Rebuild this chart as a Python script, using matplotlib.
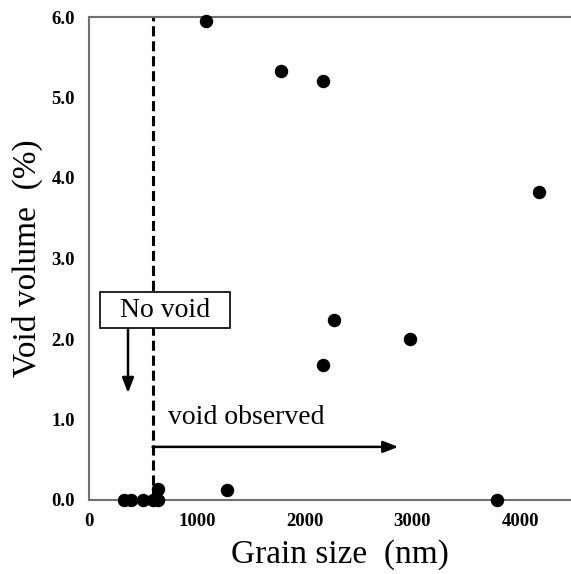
import matplotlib
matplotlib.use("Agg")
import matplotlib.pyplot as plt

grain_size = [1086, 1782, 2172, 4176, 2274, 2979, 2172, 1281, 640,
              325, 390, 500, 590, 640, 3787]
void_volume = [5.95, 5.33, 5.20, 3.83, 2.24, 2.00, 1.68, 0.12, 0.14,
               0.0, 0.0, 0.0, 0.0, 0.0, 0.0]
x_ticks = [0, 1000, 2000, 3000, 4000]
y_ticks = [0.0, 1.0, 2.0, 3.0, 4.0, 5.0, 6.0]
threshold = 590

serif = ["Liberation Serif", "DejaVu Serif"]

fig = plt.figure(figsize=(5.71, 5.74), dpi=100)
ax = fig.add_axes([89/571, 74/574, 1 - 89/571, 483/574])

ax.scatter(grain_size, void_volume, s=75, color="black", zorder=3, clip_on=False)
ax.axvline(threshold, color="black", lw=2.2, dashes=(3.3, 1.6), zorder=2)

ax.set_xlim(0, 4473)
ax.set_ylim(0, 6.0)
ax.set_xticks(x_ticks)
ax.set_yticks(y_ticks)
ax.set_xticklabels([str(t) for t in x_ticks], fontfamily=serif, fontweight="bold", fontsize=13.5)
ax.set_yticklabels([f"{t:.1f}" for t in y_ticks], fontfamily=serif, fontweight="bold", fontsize=13.5)
ax.tick_params(length=0)
ax.tick_params(axis="x", pad=9)
ax.tick_params(axis="y", pad=10)

ax.spines["right"].set_visible(False)
for s in ["left", "bottom", "top"]:
    ax.spines[s].set_color("#707070")
    ax.spines[s].set_linewidth(1.5)

ax.set_xlabel("Grain size  (nm)", fontfamily=serif, fontsize=24)
ax.xaxis.set_label_coords(0.521, -0.082)
ax.set_ylabel("Void volume  (%)", fontfamily=serif, fontsize=24, labelpad=6)

# "No void" box and arrow
ax.text(705, 2.36, "  No void  ", fontfamily=serif, fontsize=20,
        ha="center", va="center",
        bbox=dict(boxstyle="square,pad=0.2", fc="white", ec="black", lw=1.2), zorder=4)
ax.annotate("", xy=(362, 1.33), xytext=(362, 2.13),
            arrowprops=dict(arrowstyle="-|>,head_length=0.9,head_width=0.35",
                            color="black", lw=1.8, shrinkA=0, shrinkB=0))

# "void observed" text and arrow
ax.text(733, 1.03, "void observed", fontfamily=serif, fontsize=20, ha="left", va="center")
ax.annotate("", xy=(2870, 0.66), xytext=(threshold, 0.66),
            arrowprops=dict(arrowstyle="-|>,head_length=0.9,head_width=0.35",
                            color="black", lw=1.8, shrinkA=0, shrinkB=0))

fig.savefig("out.png", dpi=100)
